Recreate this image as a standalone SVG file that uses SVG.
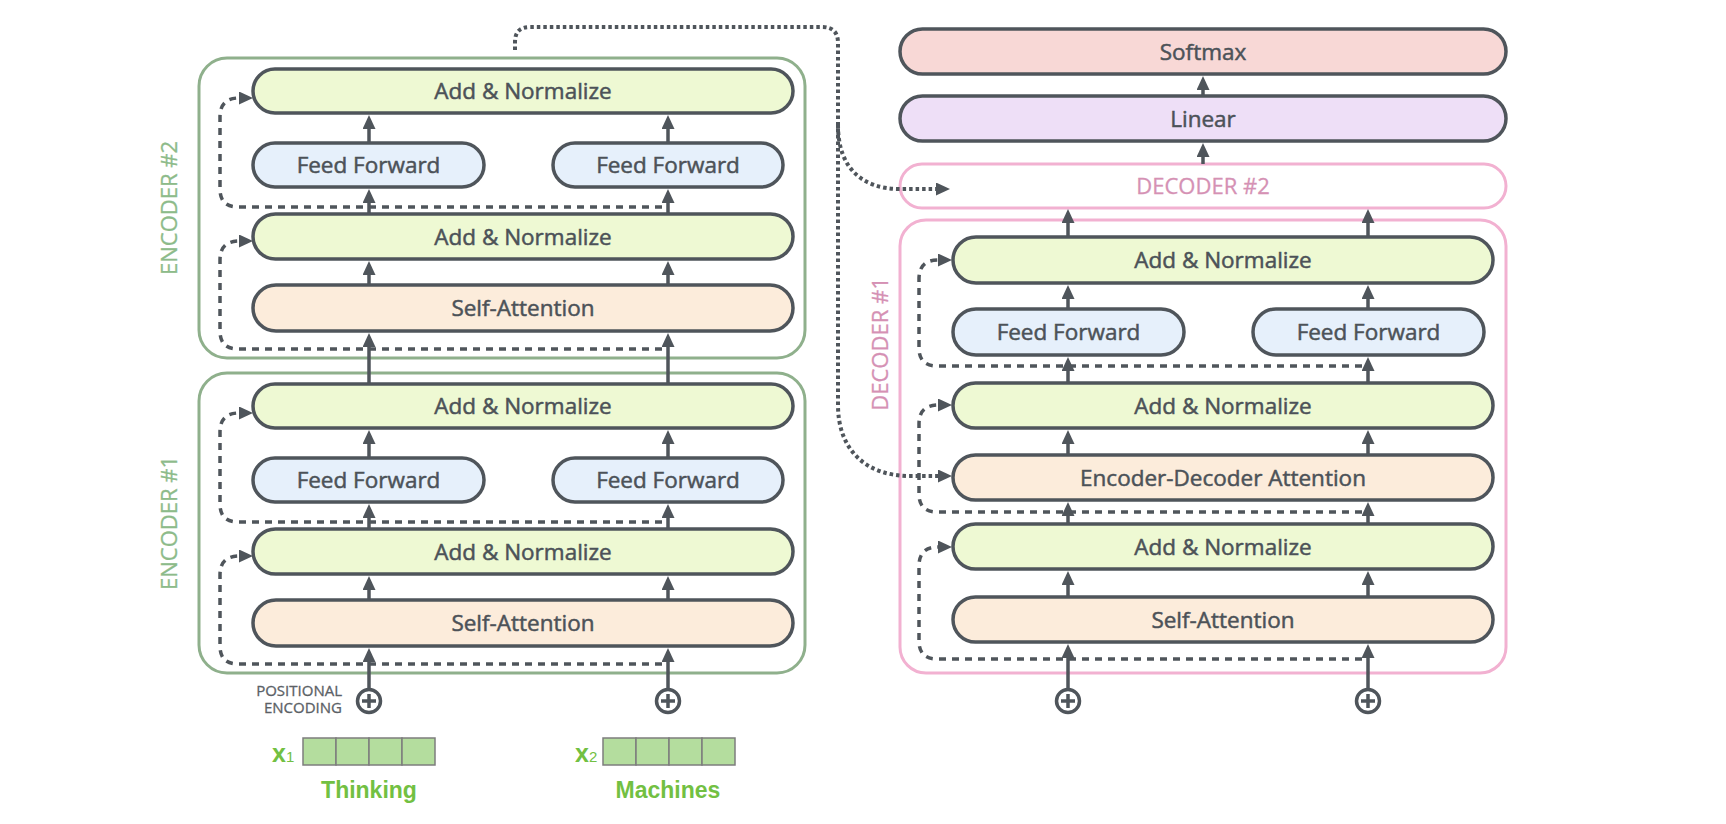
<svg xmlns="http://www.w3.org/2000/svg" width="1726" height="824" viewBox="0 0 1726 824">
<defs>
<style>
.n{stroke:#4f555b;stroke-width:3.5}
.an{fill:#eef9d3}
.ff{fill:#e6f0fb}
.sa{fill:#fcecdb}
.sm{fill:#f8d8d6}
.ln{fill:#eedff7}
.t{font-family:"Open Sans","DejaVu Sans",sans-serif;font-size:22.5px;font-weight:400;fill:#4c5258;stroke:#4c5258;stroke-width:0.5;text-anchor:middle}
.enc{fill:none;stroke:#8fb08c;stroke-width:3}
.dec{fill:#fff;stroke:#f2b1d1;stroke-width:3}
.lbl{font-family:"Open Sans","DejaVu Sans",sans-serif;font-size:22px;font-weight:400;stroke-width:0.3;text-anchor:middle}
.solid{stroke:#4f555b;stroke-width:3.5;fill:none}
.dash{stroke:#4f555b;stroke-width:3.5;fill:none;stroke-dasharray:7 6}
.dot{stroke:#4f555b;stroke-width:4;fill:none;stroke-dasharray:3.5 3}
.cell{fill:#b4dd9e;stroke:#7d7d7d;stroke-width:1.5}
.g{font-family:"Liberation Sans",Arial,sans-serif;font-weight:bold;fill:#72c042}
.pe{font-family:"Open Sans","DejaVu Sans",sans-serif;font-size:15px;fill:#5b6166;stroke:#5b6166;stroke-width:0.3;text-anchor:end}
</style>
<marker id="ah" markerUnits="userSpaceOnUse" markerWidth="14" markerHeight="13" refX="0" refY="6.5" orient="auto">
<path d="M0,0 L14,6.5 L0,13 z" fill="#4f555b"/>
</marker>
</defs>
<rect width="1726" height="824" fill="#fff"/>

<g id="encoder2">
<rect class="enc" x="199" y="58" width="606" height="300" rx="28"/>
<text class="lbl" fill="#8dbb8a" stroke="#8dbb8a" transform="translate(177,208) rotate(-90)">ENCODER #2</text>
</g>
<g id="encoder1">
<rect class="enc" x="199" y="373" width="606" height="300" rx="28"/>
<text class="lbl" fill="#8dbb8a" stroke="#8dbb8a" transform="translate(177,523) rotate(-90)">ENCODER #1</text>
</g>

<g id="e2-addnorm2"><rect class="n an" x="253" y="69" width="540" height="44" rx="22"/><text class="t" x="523" y="99">Add &amp; Normalize</text></g>
<g id="e2-ff1"><rect class="n ff" x="253" y="143" width="231" height="44" rx="22"/><text class="t" x="368.5" y="173">Feed Forward</text></g>
<g id="e2-ff2"><rect class="n ff" x="553" y="143" width="230" height="44" rx="22"/><text class="t" x="668" y="173">Feed Forward</text></g>
<g id="e2-addnorm1"><rect class="n an" x="253" y="214" width="540" height="45" rx="22.5"/><text class="t" x="523" y="244.5">Add &amp; Normalize</text></g>
<g id="e2-selfatt"><rect class="n sa" x="253" y="285" width="540" height="46" rx="23"/><text class="t" x="523" y="316">Self-Attention</text></g>

<g id="e1-addnorm2"><rect class="n an" x="253" y="384" width="540" height="44" rx="22"/><text class="t" x="523" y="414">Add &amp; Normalize</text></g>
<g id="e1-ff1"><rect class="n ff" x="253" y="458" width="231" height="44" rx="22"/><text class="t" x="368.5" y="488">Feed Forward</text></g>
<g id="e1-ff2"><rect class="n ff" x="553" y="458" width="230" height="44" rx="22"/><text class="t" x="668" y="488">Feed Forward</text></g>
<g id="e1-addnorm1"><rect class="n an" x="253" y="529" width="540" height="45" rx="22.5"/><text class="t" x="523" y="559.5">Add &amp; Normalize</text></g>
<g id="e1-selfatt"><rect class="n sa" x="253" y="600" width="540" height="46" rx="23"/><text class="t" x="523" y="631">Self-Attention</text></g>

<g id="softmax"><rect class="n sm" x="900" y="29" width="606" height="45" rx="22.5"/><text class="t" x="1203" y="59.5">Softmax</text></g>
<g id="linear"><rect class="n ln" x="900" y="96" width="606" height="45" rx="22.5"/><text class="t" x="1203" y="126.5">Linear</text></g>
<g id="decoder2"><rect class="dec" x="900" y="164" width="606" height="44" rx="22"/><text class="lbl" fill="#d591b4" stroke="#d591b4" x="1203" y="194">DECODER #2</text></g>
<g id="decoder1">
<rect class="dec" x="900" y="220" width="606" height="453" rx="26"/>
<text class="lbl" fill="#d591b4" stroke="#d591b4" transform="translate(888,344) rotate(-90)">DECODER #1</text>
</g>
<g id="d-addnorm3"><rect class="n an" x="953" y="237" width="540" height="46" rx="23"/><text class="t" x="1223" y="268">Add &amp; Normalize</text></g>
<g id="d-ff1"><rect class="n ff" x="953" y="309" width="231" height="46" rx="23"/><text class="t" x="1068.5" y="340">Feed Forward</text></g>
<g id="d-ff2"><rect class="n ff" x="1253" y="309" width="231" height="46" rx="23"/><text class="t" x="1368.5" y="340">Feed Forward</text></g>
<g id="d-addnorm2"><rect class="n an" x="953" y="383" width="540" height="45" rx="22.5"/><text class="t" x="1223" y="413.5">Add &amp; Normalize</text></g>
<g id="d-encdecatt"><rect class="n sa" x="953" y="455" width="540" height="45" rx="22.5"/><text class="t" x="1223" y="485.5">Encoder-Decoder Attention</text></g>
<g id="d-addnorm1"><rect class="n an" x="953" y="524" width="540" height="45" rx="22.5"/><text class="t" x="1223" y="554.5">Add &amp; Normalize</text></g>
<g id="d-selfatt"><rect class="n sa" x="953" y="597" width="540" height="45" rx="22.5"/><text class="t" x="1223" y="627.5">Self-Attention</text></g>

<g id="pos-enc-label">
<text class="pe" x="342" y="696">POSITIONAL</text>
<text class="pe" x="342" y="713">ENCODING</text>
</g>
<g id="plus-e1"><circle cx="369" cy="701" r="11.5" fill="#fff" class="n"/><path d="M362 701h14M369 694v14" class="solid" stroke-width="3"/></g>
<g id="plus-e2"><circle cx="668" cy="701" r="11.5" fill="#fff" class="n"/><path d="M661 701h14M668 694v14" class="solid" stroke-width="3"/></g>
<g id="plus-d1"><circle cx="1068" cy="701" r="11.5" fill="#fff" class="n"/><path d="M1061 701h14M1068 694v14" class="solid" stroke-width="3"/></g>
<g id="plus-d2"><circle cx="1368" cy="701" r="11.5" fill="#fff" class="n"/><path d="M1361 701h14M1368 694v14" class="solid" stroke-width="3"/></g>

<g id="x1">
<text class="g" font-size="25" x="272" y="762">x<tspan font-size="15" font-weight="normal">1</tspan></text>
<rect class="cell" x="303" y="738" width="33" height="27"/><rect class="cell" x="336" y="738" width="33" height="27"/><rect class="cell" x="369" y="738" width="33" height="27"/><rect class="cell" x="402" y="738" width="33" height="27"/>
<text class="g" font-size="23" x="369" y="798" text-anchor="middle">Thinking</text>
</g>
<g id="x2">
<text class="g" font-size="25" x="575" y="762">x<tspan font-size="15" font-weight="normal">2</tspan></text>
<rect class="cell" x="603" y="738" width="33" height="27"/><rect class="cell" x="636" y="738" width="33" height="27"/><rect class="cell" x="669" y="738" width="33" height="27"/><rect class="cell" x="702" y="738" width="33" height="27"/>
<text class="g" font-size="23" x="668" y="798" text-anchor="middle">Machines</text>
</g>

<g id="connectors">
<path class="solid" marker-end="url(#ah)" d="M369 688V662"/><path class="solid" marker-end="url(#ah)" d="M668 688V662"/>
<path class="solid" marker-end="url(#ah)" d="M369 600V590"/><path class="solid" marker-end="url(#ah)" d="M668 600V590"/>
<path class="solid" marker-end="url(#ah)" d="M369 529V518"/><path class="solid" marker-end="url(#ah)" d="M668 529V518"/>
<path class="solid" marker-end="url(#ah)" d="M369 458V444"/><path class="solid" marker-end="url(#ah)" d="M668 458V444"/>
<path class="solid" marker-end="url(#ah)" d="M369 384V347"/><path class="solid" marker-end="url(#ah)" d="M668 384V347"/>
<path class="solid" marker-end="url(#ah)" d="M369 285V275"/><path class="solid" marker-end="url(#ah)" d="M668 285V275"/>
<path class="solid" marker-end="url(#ah)" d="M369 214V203"/><path class="solid" marker-end="url(#ah)" d="M668 214V203"/>
<path class="solid" marker-end="url(#ah)" d="M369 143V129"/><path class="solid" marker-end="url(#ah)" d="M668 143V129"/>
<path class="dash" marker-end="url(#ah)" d="M662 349H238Q220 349 220 331V260Q220 241 239 241"/>
<path class="dash" marker-end="url(#ah)" d="M662 207H238Q220 207 220 189V117Q220 98 239 98"/>
<path class="dash" marker-end="url(#ah)" d="M662 664H238Q220 664 220 646V575Q220 556 239 556"/>
<path class="dash" marker-end="url(#ah)" d="M662 522H238Q220 522 220 504V432Q220 413 239 413"/>
<path class="solid" marker-end="url(#ah)" d="M1068 688V658"/><path class="solid" marker-end="url(#ah)" d="M1368 688V658"/>
<path class="solid" marker-end="url(#ah)" d="M1068 597V585"/><path class="solid" marker-end="url(#ah)" d="M1368 597V585"/>
<path class="solid" marker-end="url(#ah)" d="M1068 524V516"/><path class="solid" marker-end="url(#ah)" d="M1368 524V516"/>
<path class="solid" marker-end="url(#ah)" d="M1068 455V444"/><path class="solid" marker-end="url(#ah)" d="M1368 455V444"/>
<path class="solid" marker-end="url(#ah)" d="M1068 383V371"/><path class="solid" marker-end="url(#ah)" d="M1368 383V371"/>
<path class="solid" marker-end="url(#ah)" d="M1068 309V299"/><path class="solid" marker-end="url(#ah)" d="M1368 309V299"/>
<path class="solid" marker-end="url(#ah)" d="M1068 237V223"/><path class="solid" marker-end="url(#ah)" d="M1368 237V223"/>
<path class="solid" marker-end="url(#ah)" d="M1203 164V157"/>
<path class="solid" marker-end="url(#ah)" d="M1203 96V90"/>
<path class="dash" marker-end="url(#ah)" d="M1362 659H937Q919 659 919 641V566Q919 547 938 547"/>
<path class="dash" marker-end="url(#ah)" d="M1362 512H937Q919 512 919 494V424Q919 405 938 405"/>
<path class="dash" marker-end="url(#ah)" d="M1362 366H937Q919 366 919 348V279Q919 260 938 260"/>
<path class="dot" marker-end="url(#ah)" d="M515 50V42Q515 27 530 27H822Q838 27 838 43V405C838 450 866 476 910 476H938"/>
<path class="dot" marker-end="url(#ah)" d="M838 125C838 168 862 189 900 189H936"/>
</g>
</svg>
